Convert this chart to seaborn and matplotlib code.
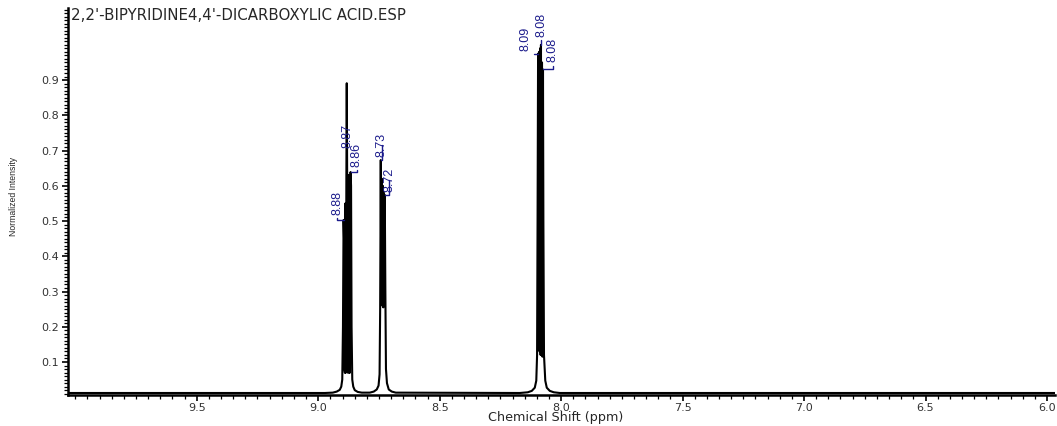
import matplotlib
matplotlib.use("Agg")
import matplotlib.pyplot as plt
import pandas as pd
import seaborn as sns
from matplotlib.ticker import FixedLocator, FormatStrFormatter, MultipleLocator

# spectrum (ppm, normalized intensity)
edge_shift = [10.05, 5.95]
baseline = 0.012

g1_shift = [8.9730, 8.9401, 8.9236, 8.9113, 8.9051, 8.9010, 8.8981, 8.8956,
            8.8936, 8.8923, 8.8899, 8.8882, 8.8862, 8.8841, 8.8825, 8.8808,
            8.8788, 8.8767, 8.8746, 8.8726, 8.8705, 8.8685, 8.8668, 8.8648,
            8.8627, 8.8598, 8.8557, 8.8495, 8.8372, 8.8207]
g1_int = [0.012, 0.013, 0.016, 0.021, 0.030, 0.050, 0.200, 0.503,
          0.450, 0.080, 0.069, 0.550, 0.070, 0.620, 0.891, 0.620,
          0.070, 0.630, 0.070, 0.630, 0.069, 0.300, 0.639, 0.600,
          0.200, 0.050, 0.030, 0.020, 0.015, 0.013]

g2_shift = [8.7878, 8.7713, 8.7590, 8.7516, 8.7474, 8.7450, 8.7425, 8.7404,
            8.7384, 8.7363, 8.7343, 8.7322, 8.7301, 8.7281, 8.7260, 8.7236,
            8.7211, 8.7170, 8.7096, 8.6972, 8.6807]
g2_int = [0.013, 0.016, 0.022, 0.033, 0.065, 0.250, 0.673, 0.280,
          0.620, 0.260, 0.600, 0.255, 0.580, 0.260, 0.574, 0.300,
          0.080, 0.040, 0.022, 0.016, 0.013]

g3_shift = [8.1702, 8.1373, 8.1208, 8.1085, 8.1023, 8.0990, 8.0970, 8.0949,
            8.0928, 8.0908, 8.0887, 8.0867, 8.0846, 8.0830, 8.0809, 8.0788,
            8.0768, 8.0747, 8.0731, 8.0706, 8.0653, 8.0591, 8.0467, 8.0303,
            8.0056]
g3_int = [0.012, 0.014, 0.018, 0.027, 0.047, 0.120, 0.500, 0.975,
          0.150, 0.980, 0.130, 0.990, 0.120, 1.000, 0.120, 0.950,
          0.115, 0.930, 0.500, 0.120, 0.047, 0.027, 0.018, 0.014,
          0.012]

peak_shift = [8.8956, 8.8825, 8.8668, 8.7425, 8.7260, 8.0949, 8.0830, 8.0747]
peak_height = [0.503, 0.891, 0.639, 0.673, 0.574, 0.975, 1.000, 0.930]
peak_label = ["8.88", "8.87", "8.86", "8.73", "8.72", "8.09", "8.08", "8.08"]

x_ticks = [9.5, 9.0, 8.5, 8.0, 7.5, 7.0, 6.5, 6.0]
y_ticks = [0.1, 0.2, 0.3, 0.4, 0.5, 0.6, 0.7, 0.8, 0.9]

title = "2,2'-BIPYRIDINE4,4'-DICARBOXYLIC ACID.ESP"

df = pd.DataFrame({
    "shift": [edge_shift[0]] + g1_shift + g2_shift + g3_shift + [edge_shift[1]],
    "intensity": [baseline] + g1_int + g2_int + g3_int + [baseline],
})

sns.set_style("ticks")
plt.rcParams["font.family"] = ["DejaVu Sans"]
arial = ["Liberation Sans", "DejaVu Sans"]

fig = plt.figure(figsize=(10.57, 4.26), dpi=100)
ax = fig.add_axes([68 / 1057, 31 / 426, 987 / 1057, 387 / 426])

sns.lineplot(data=df, x="shift", y="intensity", sort=False, estimator=None,
             color="black", lw=1.5, ax=ax)

ax.set_xlim(10.03, 5.967)
ax.set_ylim(0.0063, 1.1045)
ax.set_xlabel("")
ax.set_ylabel("")

ax.xaxis.set_major_locator(FixedLocator(x_ticks))
ax.xaxis.set_minor_locator(MultipleLocator(0.05))
ax.xaxis.set_major_formatter(FormatStrFormatter("%.1f"))
ax.yaxis.set_major_locator(FixedLocator(y_ticks))
ax.yaxis.set_minor_locator(MultipleLocator(0.01))
ax.yaxis.set_major_formatter(FormatStrFormatter("%.1f"))
ax.tick_params(which="major", length=4.5, width=1.2, labelsize=8, pad=2,
               colors="black", labelcolor="#333333")
ax.tick_params(axis="x", which="major", pad=1.5)
ax.tick_params(which="minor", length=3, width=0.9, colors="black")
sns.despine(ax=ax)
for s in ["left", "bottom"]:
    ax.spines[s].set_linewidth(1.8)
    ax.spines[s].set_color("black")

# peak labels (offsets in pixels from the peak top)
offsets = [(-6.5, 5), (0.5, -65), (6, 5), (1, 3), (4.5, 3), (-13, 3), (0.5, 8), (10, 7)]
blue = "#1c1c8c"
for x, y, lab, (dx, dy) in zip(peak_shift, peak_height, peak_label, offsets):
    arrow = dict(arrowstyle="-", color=blue, lw=1.0, shrinkA=0, shrinkB=0,
                 connectionstyle="angle,angleA=90,angleB=0,rad=0")
    if dy < 0:
        arrow = None
    ax.annotate(lab, xy=(x, y), xytext=(dx, dy), textcoords="offset pixels",
                rotation=90, ha="center", va="bottom", color=blue,
                fontsize=9, family=arial, arrowprops=arrow, annotation_clip=False)

fig.text(71 / 1057, 1 - 16 / 426, title, ha="left", va="center", fontsize=10.8)
fig.text(556 / 1057, 8 / 426, "Chemical Shift (ppm)", ha="center", va="center", fontsize=9.2)
fig.text(14 / 1057, 0.54, "Normalized Intensity", ha="center", va="center",
         rotation=90, fontsize=6.2, family=arial)

fig.savefig("out.png", dpi=100)
